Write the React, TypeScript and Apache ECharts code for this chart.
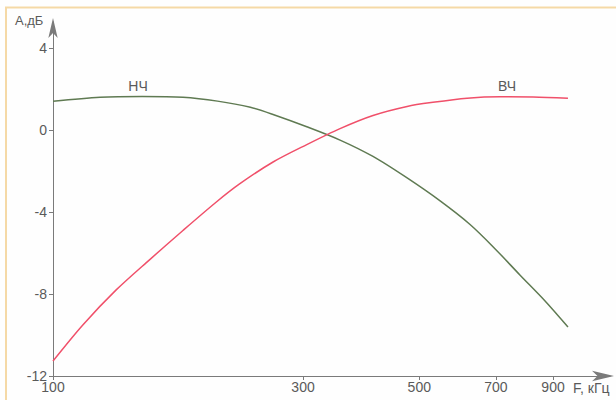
import React, { useEffect, useRef } from "react";
import * as echarts from "echarts";

// Frequencies in kHz, levels in dB
const nchFreq = [100, 123, 148, 177, 206, 238, 263, 305, 353, 408, 474, 548, 625, 698, 778, 869, 961];
const nchLevel = [1.4, 1.6, 1.64, 1.6, 1.41, 1.11, 0.76, 0.16, -0.49, -1.29, -2.34, -3.46, -4.61, -5.8, -7.07, -8.34, -9.61];

const vchFreq = [100, 114, 132, 153, 177, 205, 227, 263, 305, 353, 408, 474, 531, 617, 713, 825, 961];
const vchLevel = [-11.27, -9.51, -7.8, -6.32, -4.9, -3.51, -2.63, -1.56, -0.71, 0.07, 0.71, 1.15, 1.35, 1.55, 1.62, 1.61, 1.55];

const xTicks = [100, 300, 500, 700, 900];
const yTicks = [-12, -8, -4, 0, 4];

const seriesNames = ["НЧ", "ВЧ"];
const yAxisTitle = "А,дБ";
const xAxisTitle = "F, кГц";

const FONT = "'Liberation Sans', Arial, sans-serif";
const TEXT_COLOR = "#5a5a5a";

export default function App() {
  const ref = useRef<HTMLDivElement>(null);

  useEffect(() => {
    if (!ref.current) return;
    const chart = echarts.init(ref.current, undefined, { renderer: "svg" });
    const zip = (xs: number[], ys: number[]) => xs.map((x, i) => [x, ys[i]]);
    chart.setOption({
      animation: false,
      backgroundColor: "#fefefe",
      grid: { left: 53, right: 6, top: 22, bottom: 24, containLabel: false },
      xAxis: {
        type: "log",
        logBase: 10,
        min: 100,
        max: 1156,
        axisLine: {
          show: true,
          onZero: false,
          lineStyle: { color: "#7a7a7a", width: 1 },
          symbol: ["none", "arrow"],
          symbolSize: [8, 22],
          symbolOffset: [0, 4],
        },
        axisTick: { show: true, length: 4, customValues: xTicks, lineStyle: { color: "#7a7a7a" } },
        minorTick: { show: false },
        splitLine: { show: false },
        axisLabel: {
          customValues: xTicks,
          color: TEXT_COLOR,
          fontSize: 14,
          fontFamily: FONT,
          margin: 4,
        },
      },
      yAxis: {
        type: "value",
        min: -12,
        max: 5.27,
        axisLine: {
          show: true,
          onZero: false,
          lineStyle: { color: "#7a7a7a", width: 1 },
          symbol: ["none", "arrow"],
          symbolSize: [7, 20],
          symbolOffset: [0, 4],
        },
        axisTick: { show: true, length: 4, customValues: yTicks, lineStyle: { color: "#7a7a7a" } },
        splitLine: { show: false },
        axisLabel: {
          customValues: yTicks,
          color: TEXT_COLOR,
          fontSize: 14,
          fontFamily: FONT,
          margin: 6,
        },
      },
      series: [
        {
          name: seriesNames[0],
          type: "line",
          data: zip(nchFreq, nchLevel),
          smooth: 0.3,
          showSymbol: false,
          lineStyle: { color: "#5f7a52", width: 1.5 },
        },
        {
          name: seriesNames[1],
          type: "line",
          data: zip(vchFreq, vchLevel),
          smooth: 0.3,
          showSymbol: false,
          lineStyle: { color: "#f0506a", width: 1.5 },
        },
      ],
      graphic: [
        {
          type: "polyline",
          shape: { points: [[6, 420], [6, 7.5], [630, 7.5]] },
          style: { stroke: "#f5d9a6", lineWidth: 2, fill: "none" },
          silent: true,
        },
        {
          type: "text",
          x: 15,
          y: 20,
          style: { text: yAxisTitle, fill: TEXT_COLOR, fontSize: 13, fontFamily: FONT, verticalAlign: "middle" },
        },
        {
          type: "text",
          x: 573,
          y: 388,
          style: { text: xAxisTitle, fill: TEXT_COLOR, fontSize: 14, fontFamily: FONT, verticalAlign: "middle" },
        },
        {
          type: "text",
          x: 138,
          y: 86,
          style: { text: seriesNames[0], fill: TEXT_COLOR, fontSize: 14, fontFamily: FONT, align: "center", verticalAlign: "middle" },
        },
        {
          type: "text",
          x: 507,
          y: 86,
          style: { text: seriesNames[1], fill: TEXT_COLOR, fontSize: 14, fontFamily: FONT, align: "center", verticalAlign: "middle" },
        },
      ],
    });
    return () => chart.dispose();
  }, []);

  return (
    <div
      ref={ref}
      style={{ position: "fixed", left: 0, top: 0, width: 616, height: 400 }}
    />
  );
}
